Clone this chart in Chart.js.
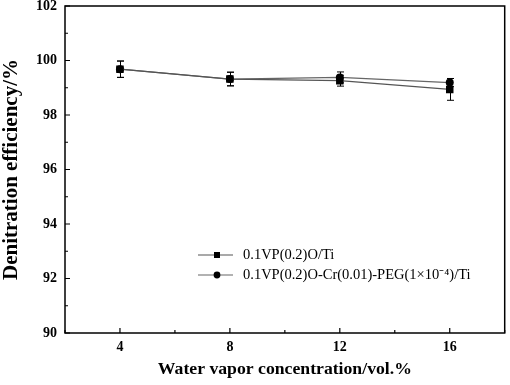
<!DOCTYPE html>
<html>
<head>
<meta charset="utf-8">
<script src="https://cdn.jsdelivr.net/npm/chart.js@4/dist/chart.umd.min.js"></script>
<style>
html,body{margin:0;padding:0;background:#fff;}
#wrap{width:510px;height:385px;position:relative;}
</style>
</head>
<body>
<div id="wrap"><canvas id="c" width="510" height="385"></canvas></div>
<script>
// ---- data ----
const waterVapor = [4, 8, 12, 16];
const seriesNames = ["0.1VP(0.2)O/Ti", "0.1VP(0.2)O-Cr(0.01)-PEG(1\u00D710\u207B\u2074)/Ti"];
const effVPO = [99.68, 99.32, 99.26, 98.94];
const errVPO = [0.3, 0.25, 0.2, 0.4];
const effVPOCr = [99.68, 99.32, 99.38, 99.19];
const errVPOCr = [0.3, 0.25, 0.2, 0.15];
const xTickLabels = [4, 8, 12, 16];
const xMinorTicks = [2, 6, 10, 14, 18];
const yTickLabels = [90, 92, 94, 96, 98, 100, 102];
const yMinorTicks = [91, 93, 95, 97, 99, 101];
const xTitle = "Water vapor concentration/vol.%";
const yTitle = "Denitration efficiency/%";

const SERIF = "'Liberation Serif','Times New Roman',serif";
const errors = [errVPO, errVPOCr];

const framePlugin = {
  id: 'frame',
  afterDatasetsDraw(chart) {
    const {ctx, chartArea: a, scales: {x, y}} = chart;
    ctx.save();
    // error bars
    ctx.strokeStyle = '#000';
    ctx.lineWidth = 1;
    chart.data.datasets.forEach((ds, di) => {
      ds.data.forEach((p, i) => {
        const e = errors[di][i];
        const px = Math.round(x.getPixelForValue(p.x)) + 0.5;
        const y1 = y.getPixelForValue(p.y + e);
        const y2 = y.getPixelForValue(p.y - e);
        ctx.beginPath();
        ctx.moveTo(px, y1); ctx.lineTo(px, y2);
        ctx.moveTo(px - 3.5, y1); ctx.lineTo(px + 3.5, y1);
        ctx.moveTo(px - 3.5, y2); ctx.lineTo(px + 3.5, y2);
        ctx.stroke();
      });
    });
    // frame
    ctx.lineWidth = 1.5;
    ctx.strokeStyle = '#000';
    ctx.strokeRect(a.left, a.top, a.right - a.left, a.bottom - a.top);
    // ticks (inward)
    ctx.lineWidth = 1.2;
    ctx.beginPath();
    xTickLabels.forEach(v => { const px = x.getPixelForValue(v); ctx.moveTo(px, a.bottom); ctx.lineTo(px, a.bottom - 5); });
    xMinorTicks.forEach(v => { const px = x.getPixelForValue(v); ctx.moveTo(px, a.bottom); ctx.lineTo(px, a.bottom - 3); });
    yTickLabels.forEach(v => { const py = y.getPixelForValue(v); ctx.moveTo(a.left, py); ctx.lineTo(a.left + 5, py); });
    yMinorTicks.forEach(v => { const py = y.getPixelForValue(v); ctx.moveTo(a.left, py); ctx.lineTo(a.left + 3, py); });
    ctx.stroke();
    // legend
    const lx1 = 198, lx2 = 233, lmx = 217, ltx = 243;
    const rows = [255, 275];
    chart.data.datasets.forEach((ds, di) => {
      const ry = rows[di];
      ctx.strokeStyle = ds.borderColor;
      ctx.lineWidth = 1.2;
      ctx.beginPath(); ctx.moveTo(lx1, ry); ctx.lineTo(lx2, ry); ctx.stroke();
      ctx.fillStyle = '#000';
      if (ds.pointStyle === 'rect') {
        ctx.fillRect(lmx - 3, ry - 3, 6, 6);
      } else {
        ctx.beginPath(); ctx.arc(lmx, ry, 3.4, 0, Math.PI * 2); ctx.fill();
      }
      ctx.fillStyle = '#000';
      ctx.font = "14.5px " + SERIF;
      ctx.textBaseline = 'middle';
      ctx.textAlign = 'left';
      ctx.fillText(ds.label, ltx, ry);
    });
    ctx.restore();
  }
};

const mk = (vals) => waterVapor.map((v, i) => ({x: v, y: vals[i]}));

new Chart(document.getElementById('c'), {
  type: 'line',
  data: {
    datasets: [
      {label: seriesNames[0], data: mk(effVPO), borderColor: '#555', borderWidth: 1.2,
       pointStyle: 'rect', pointRadius: 5.3, pointBackgroundColor: '#000', pointBorderColor: '#000', pointBorderWidth: 0},
      {label: seriesNames[1], data: mk(effVPOCr), borderColor: '#666', borderWidth: 1.2,
       pointStyle: 'circle', pointRadius: 4, pointBackgroundColor: '#000', pointBorderColor: '#000', pointBorderWidth: 0}
    ]
  },
  options: {
    responsive: false,
    animation: false,
    layout: {padding: {top: 0, right: -1, left: 0, bottom: 0}},
    plugins: {legend: {display: false}, tooltip: {enabled: false}},
    scales: {
      x: {
        type: 'linear', min: 2, max: 18,
        afterBuildTicks: s => { s.ticks = xTickLabels.map(v => ({value: v})); },
        afterFit: s => { s.height = 52; s.paddingLeft = 0; s.paddingRight = 0; },
        grid: {display: false, drawTicks: false},
        border: {display: false},
        ticks: {color: '#000', padding: 6, font: {family: SERIF, size: 14, weight: 'bold'}},
        title: {display: true, text: xTitle, color: '#000', padding: {top: 0, bottom: 5},
                font: {family: SERIF, size: 17.7, weight: 'bold'}}
      },
      y: {
        type: 'linear', min: 90, max: 102,
        afterBuildTicks: s => { s.ticks = yTickLabels.map(v => ({value: v})); },
        afterFit: s => { s.width = 65; s.paddingTop = 6; s.paddingBottom = 0; },
        grid: {display: false, drawTicks: false},
        border: {display: false},
        ticks: {color: '#000', padding: 8, font: {family: SERIF, size: 14, weight: 'bold'}},
        title: {display: true, text: yTitle, color: '#000', padding: {top: -1, bottom: 0},
                font: {family: SERIF, size: 21, weight: 'bold'}}
      }
    }
  },
  plugins: [framePlugin]
});
</script>
</body>
</html>
